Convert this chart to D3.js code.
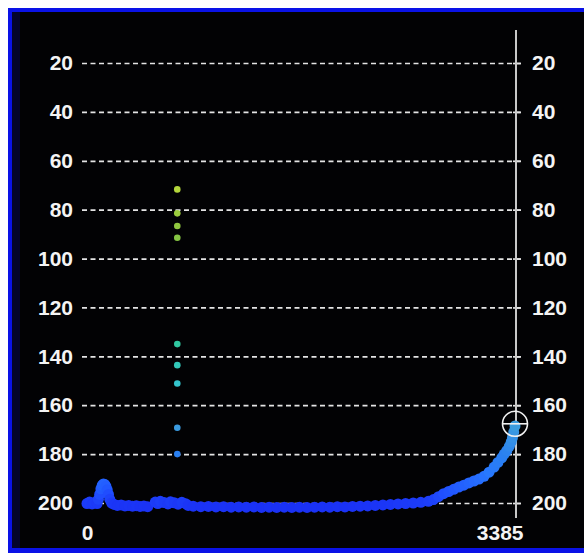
<!DOCTYPE html>
<html><head><meta charset="utf-8">
<script src="https://cdn.jsdelivr.net/npm/d3@7/dist/d3.min.js"></script>
<style>
html,body{margin:0;padding:0;background:#fff;}
svg{display:block;}
.lbl text{font-family:"Liberation Sans",Arial,sans-serif;font-weight:bold;font-size:21px;fill:#f4f4f4;}
</style></head>
<body>
<svg id="c" width="584" height="553"></svg>
<script>
// ---- data ----
const yTicks = [20,40,60,80,100,120,140,160,180,200];
const xTicks = [0,3385];
// main trace (index, value)
const bandX = [0,20,40,60,80,90,100,110,120,130,140,150,160,170,180,195,215,240,270,300,330,360,390,420,450,480,
  540,560,580,610,640,660,690,720,750,780,800,
  840,900,960,1020,1080,1140,1200,1260,1320,1380,1440,1500,1560,1620,1680,1740,1800,1860,1920,1980,2040,2100,2160,2220,2280,2340,2400,2460,2520,2580,2640,2700,
  2740,2780,2820,2860,2900,2940,2980,3020,3060,3100,3140,3180,3220,3250,3280,3300,3320,3340,3355,3365,3375,3385];
const bandY = [200.2,199.6,200.4,199.8,200.2,198.5,196.5,194.2,192.8,192.2,192.4,193.2,194.6,196.5,198.5,200.0,200.6,201.0,200.8,201.2,201.0,201.3,201.1,201.4,201.2,201.5,
  199.6,200.2,199.3,199.8,200.4,199.5,199.9,200.5,199.7,200.3,201.0,
  201.3,201.5,201.4,201.6,201.5,201.7,201.6,201.7,201.6,201.8,201.7,201.8,201.7,201.8,201.7,201.8,201.7,201.6,201.7,201.5,201.6,201.4,201.3,201.2,201.0,200.8,200.6,200.4,200.2,200.0,199.7,199.3,
  198.6,197.4,196.2,195.3,194.4,193.5,192.7,191.8,191.0,190.2,189.1,187.4,185.3,183.4,181.5,180.0,178.6,176.8,175.0,173.2,171.0,168.5];
// isolated points
const spotX = [714,714,714,714,714,714,714,714,714];
const spotY = [71.7,81.5,86.7,91.5,135.0,143.6,151.1,169.2,180.0];
// cursor marker
const cursorX = 3385, cursorY = 167.6;

// ---- drawing ----
const svg = d3.select("#c");
svg.append("rect").attr("x",8).attr("y",8).attr("width",576).attr("height",545).attr("fill","#0a12e6");
svg.append("rect").attr("x",12).attr("y",12).attr("width",572).attr("height",536).attr("fill","#02020a");
svg.append("rect").attr("x",12).attr("y",12).attr("width",8).attr("height",536).attr("fill","#04042a");
svg.append("rect").attr("x",20).attr("y",12).attr("width",564).attr("height",536).attr("fill","#020204");

const x = d3.scaleLinear().domain([0,3385]).range([87,515]);
const y = d3.scaleLinear().domain([20,200]).range([63,503]);
const color = d3.scaleLinear()
  .domain([70,90,135,150,170,180,188,196,202])
  .range(["#b8d83c","#88c440","#30c8a0","#34c8cc","#3a98e0","#2a80f0","#2878ff","#2050ff","#1a30f4"]);

// grid
const grid = svg.append("g").attr("transform","translate(82,0)")
  .call(d3.axisRight(y).tickValues(yTicks).tickSize(439).tickFormat(""));
grid.select(".domain").remove();
grid.selectAll("line").attr("stroke","#e4e4e4").attr("stroke-width",1.7).attr("stroke-dasharray","5,3.5");
const tk = svg.append("g").attr("transform","translate(513,0)")
  .call(d3.axisRight(y).tickValues(yTicks).tickSize(8).tickFormat(""));
tk.select(".domain").remove();
tk.selectAll("line").attr("stroke","#e4e4e4").attr("stroke-width",1.7);

// vertical line
svg.append("line").attr("x1",516).attr("x2",516).attr("y1",30).attr("y2",518)
  .attr("stroke","#c8c8c8").attr("stroke-width",2);

// labels
const la = svg.append("g").attr("class","lbl").attr("transform","translate(82,0)")
  .call(d3.axisLeft(y).tickValues(yTicks).tickSize(0).tickPadding(9));
la.select(".domain").remove();
const ra = svg.append("g").attr("class","lbl").attr("transform","translate(521,0)")
  .call(d3.axisRight(y).tickValues(yTicks).tickSize(0).tickPadding(11));
ra.select(".domain").remove();
const xa = svg.append("g").attr("class","lbl").attr("transform","translate(0,522)")
  .call(d3.axisBottom(x).tickValues(xTicks).tickSize(0).tickPadding(0).tickFormat(d3.format("d")));
xa.select(".domain").remove();
xa.selectAll("text").attr("dy","0.35em").attr("y",11);
xa.selectAll(".tick").filter(d=>d===3385).select("text").attr("text-anchor","end").attr("x",8);
svg.selectAll(".lbl text").attr("font-family",null).attr("font-size",null).attr("fill",null);

// band
const band = bandX.map((d,i)=>({x:d,y:bandY[i]}));
svg.append("g").selectAll("circle").data(band).join("circle")
  .attr("cx",d=>x(d.x)).attr("cy",d=>y(d.y)).attr("r",5.5)
  .attr("fill",d=>color(d.y));
// isolated spots
const spots = spotX.map((d,i)=>({x:d,y:spotY[i]}));
svg.append("g").selectAll("circle").data(spots).join("circle")
  .attr("cx",d=>x(d.x)).attr("cy",d=>y(d.y)).attr("r",3.3)
  .attr("fill",d=>color(d.y));

// cursor
const cx = x(cursorX), cy = y(cursorY);
svg.append("circle").attr("cx",cx).attr("cy",cy).attr("r",12.5)
  .attr("fill","none").attr("stroke","#f0f0f0").attr("stroke-width",1.6);
svg.append("line").attr("x1",cx-13).attr("x2",cx+13).attr("y1",cy).attr("y2",cy)
  .attr("stroke","#f0f0f0").attr("stroke-width",1.6);
</script>
</body></html>
